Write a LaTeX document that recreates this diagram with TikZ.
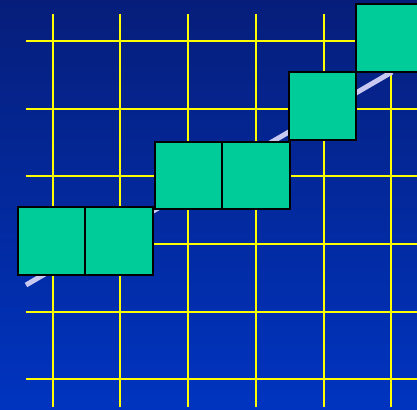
\documentclass[tikz,border=0pt]{standalone}
\usetikzlibrary{positioning}
\definecolor{bgtop}{RGB}{6,30,122}
\definecolor{bgbot}{RGB}{0,52,192}
\definecolor{cell}{RGB}{0,204,153}
\definecolor{gridy}{RGB}{255,255,0}
\definecolor{lav}{RGB}{200,200,240}
\begin{document}
\begin{tikzpicture}[x=1pt,y=-1pt,
  gridline/.style={gridy,line width=2pt},
  cellbox/.style={draw=black,fill=cell,line width=2pt,minimum width=67.5pt,minimum height=67.5pt,inner sep=0pt,outer sep=0pt,anchor=north west},
  ideal/.style={lav,line width=5pt}]
\useasboundingbox (0,0) rectangle (417,409);
\shade[top color=bgtop,bottom color=bgbot] (0,0) rectangle (417,409);
\foreach \x in {52.7,120.3,188,255.7,323.5,391}
  \draw[gridline] (\x,14) -- (\x,406.5);
\foreach \y in {41,108.6,176.2,243.8,311.5,379}
  \draw[gridline] (25.7,\y) -- (417,\y);
\coordinate (p0) at (26,285);
\coordinate (p1) at (392,72);
\draw[ideal] (p0) -- (p1);
\node[cellbox] (a1) at (18,207.3) {};
\node[cellbox] (a2) at (85.3,207.3) {};
\node[cellbox] (b1) at (154.7,141.5) {};
\node[cellbox] (b2) at (222,141.5) {};
\node[cellbox] (c1) at (288.7,72) {};
\node[cellbox] (d1) at (356.3,4.3) {};
\end{tikzpicture}
\end{document}
